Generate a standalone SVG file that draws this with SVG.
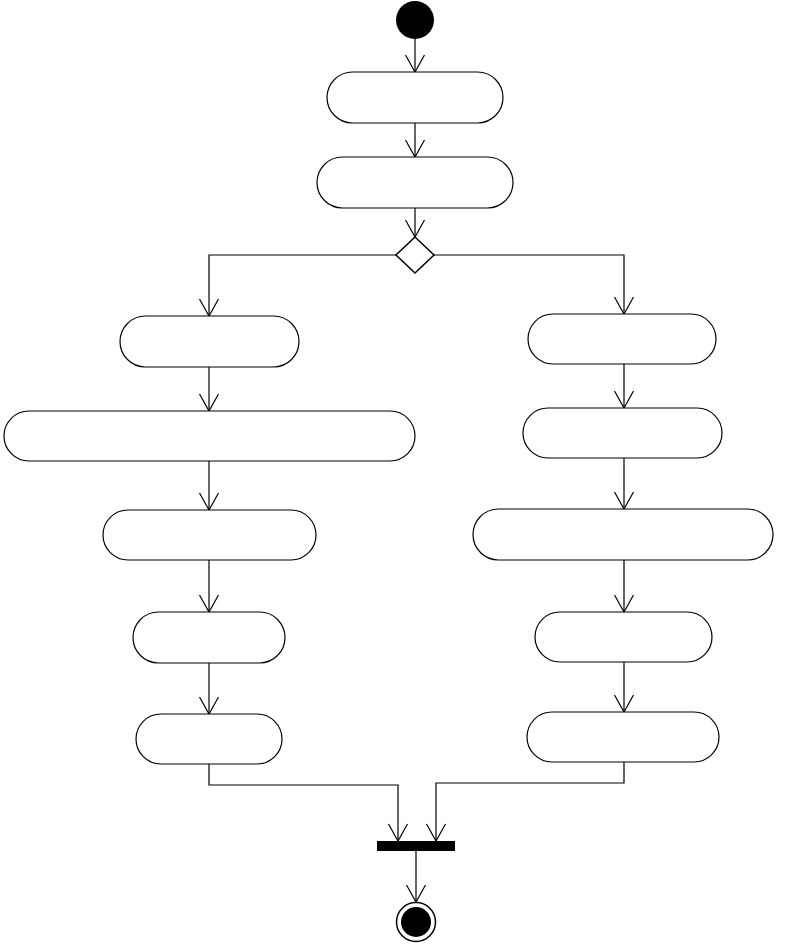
<svg xmlns="http://www.w3.org/2000/svg" width="791" height="946" viewBox="0 0 791 946">
<defs>
<style>
.act{fill:#fff;stroke:#000;stroke-width:1.2}
.edge{fill:none;stroke:#000;stroke-width:1.2}
</style>
<marker id="arr" markerUnits="userSpaceOnUse" markerWidth="24" markerHeight="24" viewBox="-20 -12 24 24" refX="0" refY="0" orient="auto">
<path d="M-17,-9.5 L0,0 L-17,9.5" fill="none" stroke="#000" stroke-width="1.2"/>
</marker>
</defs>
<rect width="791" height="946" fill="#fff"/>
<g id="connectors">
<path class="edge" marker-end="url(#arr)" d="M415,39 V72"/>
<path class="edge" marker-end="url(#arr)" d="M415,123 V157"/>
<path class="edge" marker-end="url(#arr)" d="M415,208 V237"/>
<path class="edge" marker-end="url(#arr)" d="M396,255 H209 V316"/>
<path class="edge" marker-end="url(#arr)" d="M434,255 H624 V314"/>
<path class="edge" marker-end="url(#arr)" d="M209,367 V411"/>
<path class="edge" marker-end="url(#arr)" d="M209,461 V510"/>
<path class="edge" marker-end="url(#arr)" d="M209,560 V612"/>
<path class="edge" marker-end="url(#arr)" d="M209,663 V714"/>
<path class="edge" marker-end="url(#arr)" d="M624,364 V408"/>
<path class="edge" marker-end="url(#arr)" d="M624,458 V509"/>
<path class="edge" marker-end="url(#arr)" d="M624,560 V612"/>
<path class="edge" marker-end="url(#arr)" d="M624,662 V712"/>
<path class="edge" marker-end="url(#arr)" d="M209,764 V785 H398 V841"/>
<path class="edge" marker-end="url(#arr)" d="M624,762 V783 H436 V841"/>
<path class="edge" marker-end="url(#arr)" d="M416,851 V902"/>
</g>
<g id="start"><circle cx="415" cy="20" r="19" fill="#000"/></g>
<g id="a1"><rect class="act" x="327" y="72" width="176" height="51" rx="25.5"/></g>
<g id="a2"><rect class="act" x="317" y="157" width="196" height="51" rx="25.5"/></g>
<g id="decision"><path d="M415,237 L434,255 L415,273 L396,255 Z" fill="#fff" stroke="#000" stroke-width="1.5"/></g>
<g id="l1"><rect class="act" x="120" y="316" width="179" height="51" rx="25.5"/></g>
<g id="l2"><rect class="act" x="4" y="411" width="411" height="50" rx="25"/></g>
<g id="l3"><rect class="act" x="103" y="510" width="213" height="50" rx="25"/></g>
<g id="l4"><rect class="act" x="133" y="612" width="152" height="51" rx="25.5"/></g>
<g id="l5"><rect class="act" x="136" y="714" width="146" height="50" rx="25"/></g>
<g id="r1"><rect class="act" x="528" y="314" width="188" height="50" rx="25"/></g>
<g id="r2"><rect class="act" x="523" y="408" width="199" height="50" rx="25"/></g>
<g id="r3"><rect class="act" x="473" y="509" width="300" height="51" rx="25.5"/></g>
<g id="r4"><rect class="act" x="535" y="612" width="177" height="50" rx="25"/></g>
<g id="r5"><rect class="act" x="527" y="712" width="192" height="50" rx="25"/></g>
<g id="join"><rect x="377" y="841" width="78" height="10" fill="#000"/></g>
<g id="end">
<circle cx="416" cy="922" r="19.5" fill="#fff" stroke="#000" stroke-width="1.5"/>
<circle cx="416" cy="922" r="15" fill="#000"/>
</g>
</svg>
